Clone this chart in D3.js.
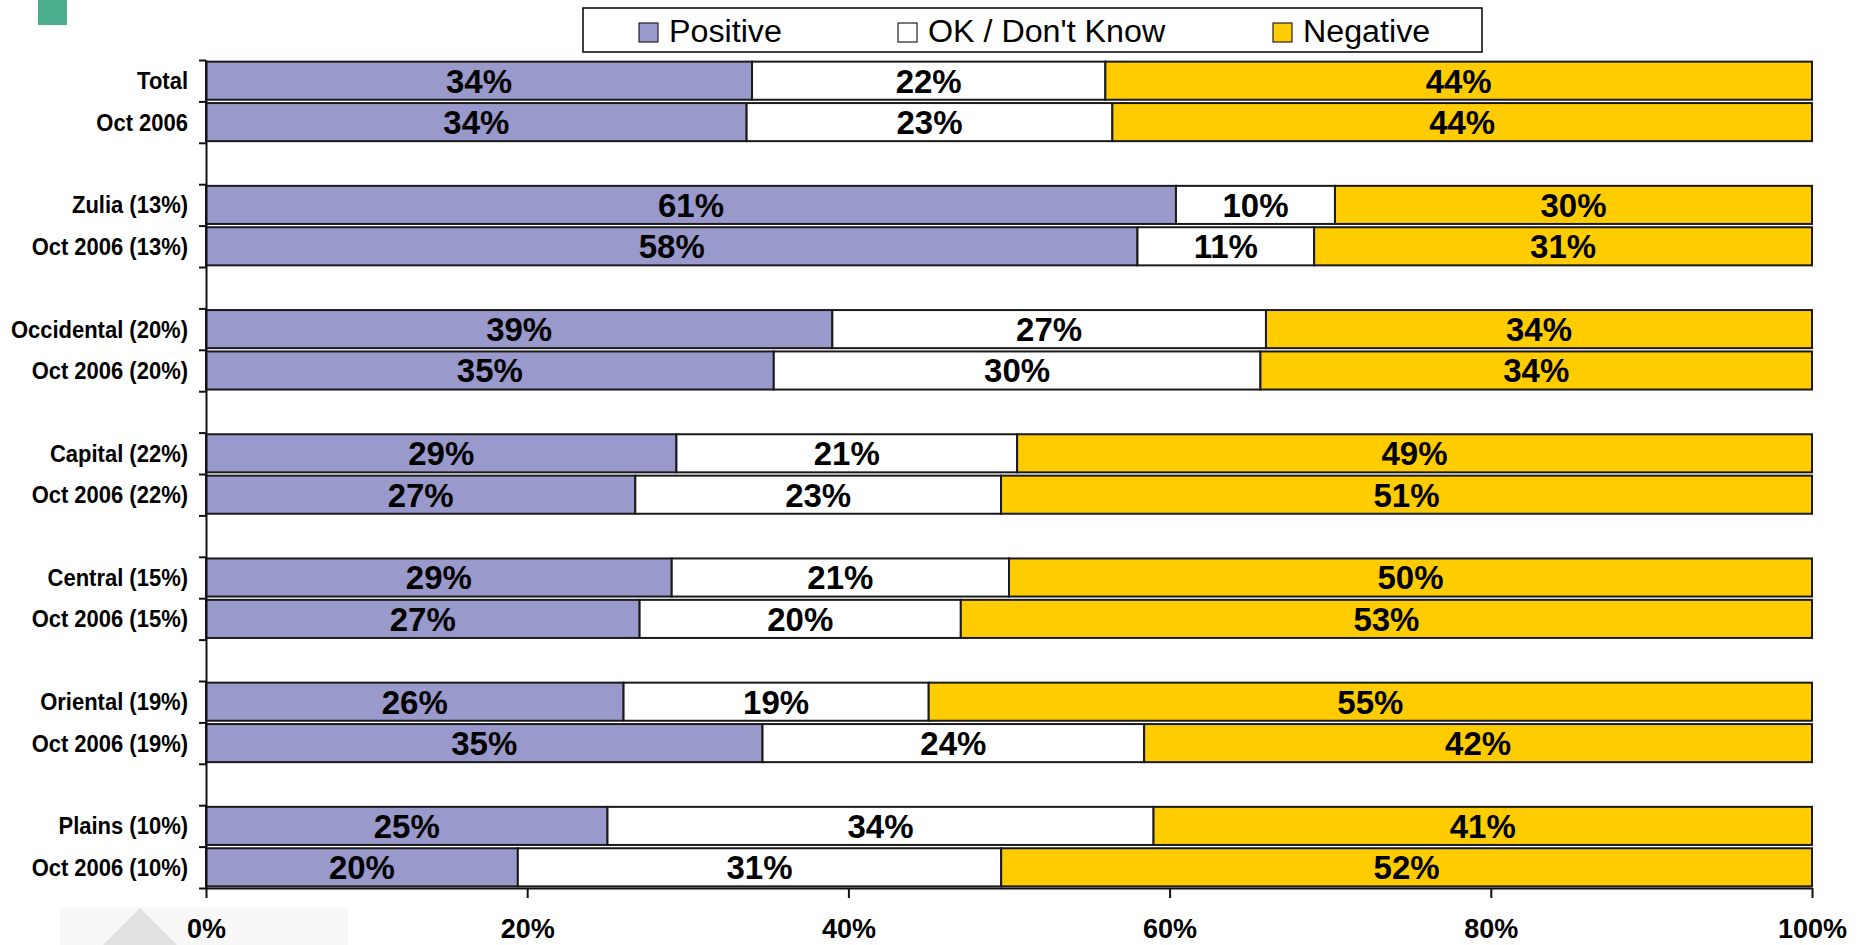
<!DOCTYPE html>
<html>
<head>
<meta charset="utf-8">
<script src="https://cdn.jsdelivr.net/npm/d3@7"></script>
<style>
  html, body { margin: 0; padding: 0; background: #ffffff; }
  svg { display: block; }
  text { font-family: "Liberation Sans", Arial, Helvetica, sans-serif; }
</style>
</head>
<body>
<svg id="chart" width="1864" height="945"></svg>
<script>
// ---- data ----
const categories = [
  "Total", "Oct 2006",
  "Zulia (13%)", "Oct 2006 (13%)",
  "Occidental (20%)", "Oct 2006 (20%)",
  "Capital (22%)", "Oct 2006 (22%)",
  "Central (15%)", "Oct 2006 (15%)",
  "Oriental (19%)", "Oct 2006 (19%)",
  "Plains (10%)", "Oct 2006 (10%)"
];
const positive   = [34, 34, 61, 58, 39, 35, 29, 27, 29, 27, 26, 35, 25, 20];
const okDontKnow = [22, 23, 10, 11, 27, 30, 21, 23, 21, 20, 19, 24, 34, 31];
const negative   = [44, 44, 30, 31, 34, 34, 49, 51, 50, 53, 55, 42, 41, 52];
const seriesNames = ["Positive", "OK / Don't Know", "Negative"];
const xTicks = [0, 0.2, 0.4, 0.6, 0.8, 1];
const xTickLabels = ["0%", "20%", "40%", "60%", "80%", "100%"];

// ---- layout / style ----
const colors = { "Positive": "#9999cc", "OK / Don't Know": "#ffffff", "Negative": "#ffcc00" };
const margin = { left: 206, right: 1812, top: 60, bottom: 888 };
const rowsPerGroup = 2;
const nSlots = categories.length + (categories.length / rowsPerGroup - 1);

const svg = d3.select("#chart");

// decorations seen in the reference
svg.append("rect").attr("x", 38).attr("y", 0).attr("width", 29).attr("height", 25).attr("fill", "#4aae8f");
svg.append("rect").attr("x", 60).attr("y", 907).attr("width", 288).attr("height", 38).attr("fill", "#f8f8f8");
svg.append("path").attr("d", "M140,908 L177,945 L103,945 Z").attr("fill", "#e2e2e2");

// ---- data table ----
const rows = categories.map((c, i) => ({
  category: c,
  slot: i + Math.floor(i / rowsPerGroup),
  "Positive": positive[i],
  "OK / Don't Know": okDontKnow[i],
  "Negative": negative[i]
}));

const stack = d3.stack().keys(seriesNames).offset(d3.stackOffsetExpand);
const stacked = stack(rows);

// ---- scales ----
const x = d3.scaleLinear().domain([0, 1]).range([margin.left, margin.right]);
const y = d3.scaleBand().domain(d3.range(nSlots)).range([margin.top, margin.bottom])
  .paddingInner(0.08).paddingOuter(0.04);
const yEdges = d3.scaleLinear().domain([0, nSlots]).range([margin.top, margin.bottom]);

// ---- bars ----
const layers = svg.append("g").selectAll("g").data(stacked).join("g")
  .attr("fill", d => colors[d.key]);

layers.selectAll("rect").data(d => d).join("rect")
  .attr("x", d => x(d[0]))
  .attr("y", d => y(d.data.slot))
  .attr("width", d => x(d[1]) - x(d[0]))
  .attr("height", y.bandwidth())
  .attr("stroke", "#1a1a1a")
  .attr("stroke-width", 2);

// ---- value labels ----
const labelG = svg.append("g");
stacked.forEach(layer => {
  labelG.selectAll(null).data(layer).join("text")
    .attr("x", d => x((d[0] + d[1]) / 2))
    .attr("y", d => y(d.data.slot) + y.bandwidth() / 2)
    .attr("dy", "0.36em")
    .attr("text-anchor", "middle")
    .attr("font-size", 33)
    .attr("font-weight", "bold")
    .attr("fill", "#000")
    .text(d => d.data[layer.key] + "%");
});

// ---- y axis (edge ticks) ----
const yAxisG = svg.append("g").attr("transform", `translate(${margin.left},0)`)
  .call(d3.axisLeft(yEdges).tickValues(d3.range(nSlots + 1)).tickFormat("").tickSize(7).tickSizeOuter(0));
yAxisG.select(".domain").attr("stroke", "#111").attr("stroke-width", 2);
yAxisG.selectAll(".tick line").attr("stroke", "#111").attr("stroke-width", 2);

// category labels
svg.append("g").selectAll("text").data(rows).join("text")
  .attr("transform", d => `translate(188,${y(d.slot) + y.bandwidth() / 2}) scale(1,1.08)`)
  .attr("dy", "0.36em")
  .attr("text-anchor", "end")
  .attr("font-size", 22)
  .attr("font-weight", "bold")
  .attr("fill", "#000")
  .text(d => d.category);

// ---- x axis ----
const xAxisG = svg.append("g").attr("transform", `translate(0,${margin.bottom})`)
  .call(d3.axisBottom(x).tickValues(xTicks).tickFormat((d, i) => xTickLabels[i]).tickSize(10).tickSizeOuter(0));
xAxisG.select(".domain").attr("stroke", "#111").attr("stroke-width", 2);
xAxisG.selectAll(".tick line").attr("stroke", "#111").attr("stroke-width", 2);
xAxisG.selectAll(".tick text")
  .attr("y", 50).attr("dy", null)
  .attr("font-size", 27).attr("font-weight", "bold")
  .attr("font-family", "'Liberation Sans', Arial, sans-serif")
  .attr("fill", "#000");

// ---- legend ----
const legend = svg.append("g");
legend.append("rect").attr("x", 583).attr("y", 8).attr("width", 899).attr("height", 44)
  .attr("fill", "#fff").attr("stroke", "#000").attr("stroke-width", 1.5);
const legendX = d3.scaleOrdinal().domain(seriesNames).range([639, 898, 1273]);
const items = legend.selectAll("g.item").data(seriesNames).join("g").attr("class", "item")
  .attr("transform", d => `translate(${legendX(d)},0)`);
items.append("rect").attr("x", 0).attr("y", 23).attr("width", 19).attr("height", 19)
  .attr("fill", d => colors[d]).attr("stroke", "#222").attr("stroke-width", 1.2);
items.append("text")
  .attr("transform", "translate(30,42) scale(1.04,1)")
  .attr("font-size", 31)
  .attr("fill", "#000")
  .text(d => d);
</script>
</body>
</html>
